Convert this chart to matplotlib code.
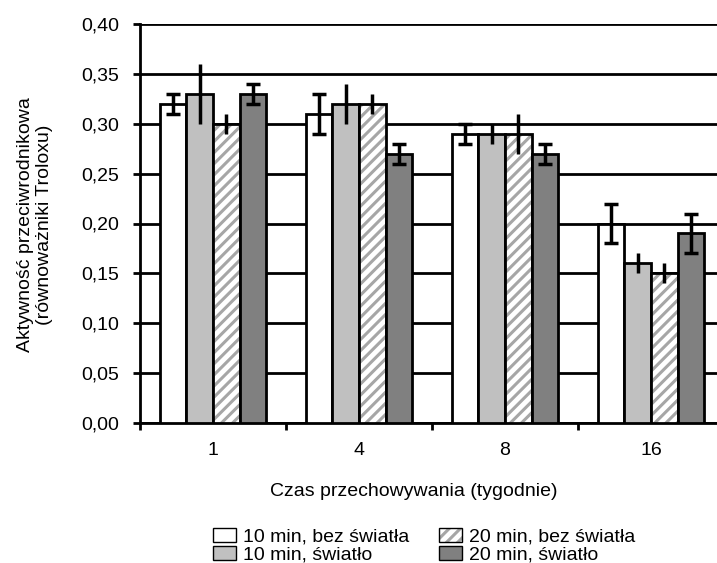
import numpy as np
import matplotlib
matplotlib.use("Agg")
import matplotlib.pyplot as plt
from matplotlib.ticker import FuncFormatter
from matplotlib.patches import Patch
from matplotlib.legend_handler import HandlerTuple

plt.rcParams['font.family'] = ['Liberation Sans', 'DejaVu Sans']
plt.rcParams['hatch.linewidth'] = 2.2

tygodnie = ['1', '4', '8', '16']
serie = ['10 min, bez światła', '10 min, światło', '20 min, bez światła', '20 min, światło']
wartosci = [
    [0.32, 0.31, 0.29, 0.20],
    [0.33, 0.32, 0.29, 0.16],
    [0.30, 0.32, 0.29, 0.15],
    [0.33, 0.27, 0.27, 0.19],
]
bledy = [
    [0.01, 0.02, 0.01, 0.02],
    [0.03, 0.02, 0.01, 0.01],
    [0.01, 0.01, 0.02, 0.01],
    [0.01, 0.01, 0.01, 0.02],
]

kolory = ['white', '#c0c0c0', 'white', '#808080']
wzory = [None, None, '///', None]
kapturki = [5, 0, 0, 5]
szary_wzor = '#a6a6a6'

fig = plt.figure(figsize=(7.17, 5.63), dpi=100)
ax = fig.add_axes([140 / 717, 140 / 563, 584 / 717, 399 / 563])

x = np.arange(len(tygodnie))
szer = 0.182
uchwyty = []
for i in range(4):
    pos = x + (i - 1.5) * szer
    if wzory[i]:
        ax.bar(pos, wartosci[i], szer, color='white', edgecolor=szary_wzor,
               linewidth=0, hatch=wzory[i], zorder=3)
        ax.bar(pos, wartosci[i], szer, fill=False, edgecolor='black',
               linewidth=2, zorder=3)
        uchwyty.append((Patch(facecolor='white', edgecolor=szary_wzor, hatch='///', linewidth=0),
                        Patch(fill=False, edgecolor='black', linewidth=1)))
    else:
        ax.bar(pos, wartosci[i], szer, color=kolory[i], edgecolor='black',
               linewidth=2, zorder=3)
        uchwyty.append(Patch(facecolor=kolory[i], edgecolor='black', linewidth=1))
    ax.errorbar(pos, wartosci[i], yerr=bledy[i], fmt='none', ecolor='black',
                elinewidth=2.5, capsize=kapturki[i], capthick=2.5, zorder=4)

ax.set_ylim(0, 0.40)
ax.set_xlim(-0.5, 3.5)
ax.set_yticks(np.arange(0, 0.401, 0.05))
ax.yaxis.set_major_formatter(FuncFormatter(lambda v, p: f"{v:.2f}".replace('.', ',')))
ax.set_xticks(x)
ax.set_xticklabels(tygodnie)
ax.set_xticks(np.arange(-0.5, 3.6, 1), minor=True)
ax.tick_params(axis='x', which='major', length=0, labelsize=14, pad=14)
ax.tick_params(axis='x', which='minor', length=5, width=2, direction='out')
ax.tick_params(axis='y', length=5, width=2, direction='out', labelsize=14, pad=10)
ax.grid(axis='y', color='black', linewidth=2, zorder=0)
for s in ['top', 'right']:
    ax.spines[s].set_visible(False)
ax.spines['left'].set_linewidth(2)
ax.spines['bottom'].set_linewidth(2)

fig.text(414 / 717, 1 - 492 / 563, 'Czas przechowywania (tygodnie)', fontsize=14,
         ha='center', va='center')
fig.text(35 / 717, 1 - 225 / 563, 'Aktywność przeciwrodnikowa\n(równoważniki Troloxu)',
         fontsize=14, rotation=90, ha='center', va='center', linespacing=1.2)

fig.legend(uchwyty, serie, loc='center', bbox_to_anchor=(424 / 717, 1 - 546 / 563), ncol=2,
           frameon=False, fontsize=14, handlelength=1.2, handleheight=0.7,
           handletextpad=0.35, columnspacing=1.55, labelspacing=0.02,
           borderpad=0, handler_map={tuple: HandlerTuple(ndivide=1, pad=0)})

fig.savefig('out.png', dpi=100)
